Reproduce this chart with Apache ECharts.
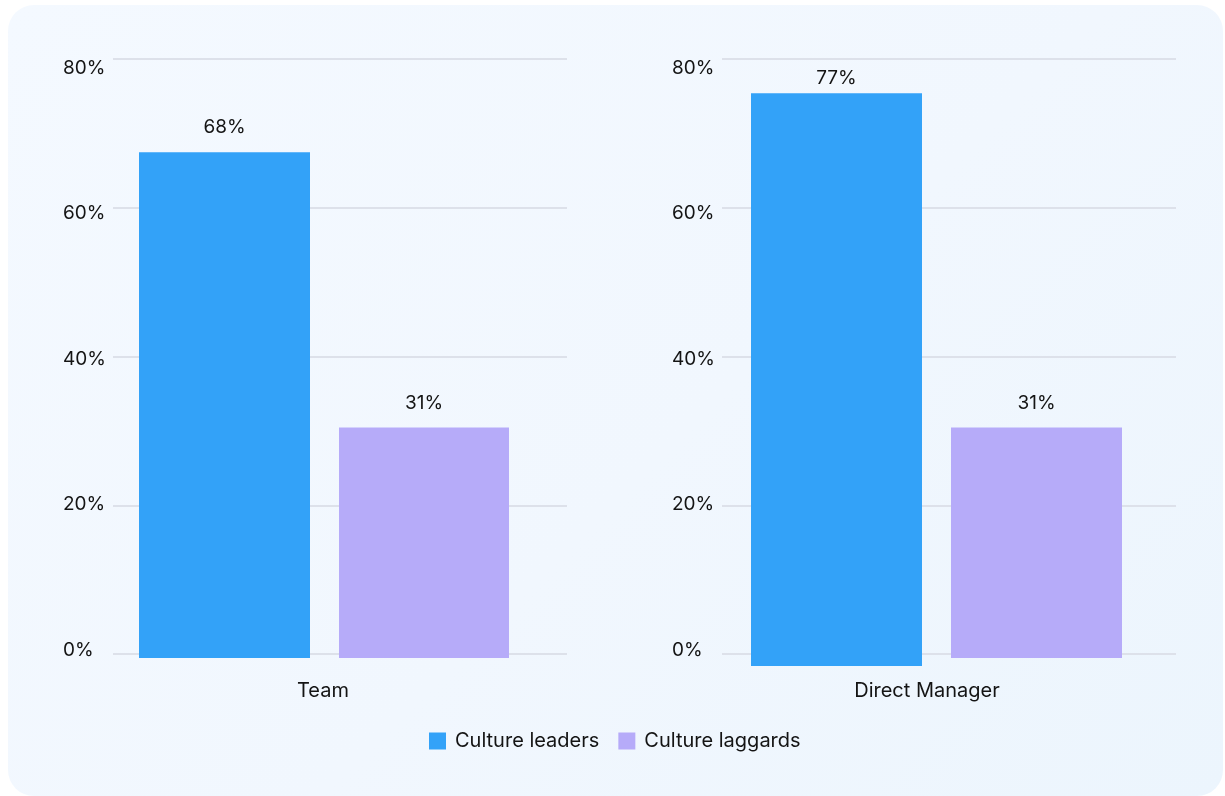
<!DOCTYPE html>
<html>
<head>
<meta charset="utf-8">
<script src="https://cdn.jsdelivr.net/npm/echarts/dist/echarts.min.js"></script>
<style>
  html, body { margin: 0; padding: 0; background: #ffffff; width: 1225px; height: 796px; overflow: hidden; }
  #bg { position: absolute; left: 8px; top: 5px; width: 1215px; height: 791px; border-radius: 26px;
        background: linear-gradient(135deg, #f4f9ff 0%, #f1f7fe 55%, #ecf5fd 100%); }
  #chart { position: absolute; left: 0; top: 0; width: 1225px; height: 796px; }
</style>
</head>
<body>
<div id="bg"></div>
<div id="chart"></div>
<script>
// ---- data ----
const categories = ['Team', 'Direct Manager'];
const seriesNames = ['Culture leaders', 'Culture laggards'];
const leaders = [68, 77];
const laggards = [31, 31];
const yMin = 0, yMax = 80, yStep = 20;

// ---- layout / style (not data) ----
const FONT = 'Inter, "Open Sans", sans-serif';
const TXT = '#141414';
const colors = ['#33a2f8', '#b6abf9'];
const panels = [
  { gridLeft: 113, gridWidth: 454, labelWidth: 420,
    bars: [ { left: 139, width: 171, zero: 658, dist: 15 }, { left: 339, width: 170, zero: 658, dist: 15 } ] },
  { gridLeft: 722, gridWidth: 454, labelWidth: 410,
    bars: [ { left: 751, width: 171, zero: 666, dist: 6 }, { left: 951, width: 171, zero: 658, dist: 15 } ] }
];
const SCALE_H = 595; // px for full 0..80 range

const grid = [], xAxis = [], yAxis = [], series = [];
const valueSeries = [leaders, laggards];

panels.forEach((p, pi) => {
  // gridlines grid
  let gi = grid.length;
  grid.push({ left: p.gridLeft, width: p.gridWidth, top: 59, height: SCALE_H, outerBoundsMode: 'none' });
  xAxis.push({ gridIndex: gi, type: 'category', data: [categories[pi]], show: false });
  yAxis.push({ gridIndex: gi, type: 'value', min: yMin, max: yMax, interval: yStep,
    axisLine: { show: false }, axisTick: { show: false }, axisLabel: { show: false },
    splitLine: { show: true, lineStyle: { color: '#dde1ea', width: 2 } } });

  // labels grid (y tick labels + category label)
  gi = grid.length;
  grid.push({ left: p.gridLeft, width: p.labelWidth, top: 68, height: 582, outerBoundsMode: 'none' });
  xAxis.push({ gridIndex: gi, type: 'category', data: [categories[pi]],
    axisLine: { show: false }, axisTick: { show: false }, splitLine: { show: false },
    axisLabel: { show: true, margin: 31, fontSize: 20, color: TXT, fontFamily: FONT } });
  yAxis.push({ gridIndex: gi, type: 'value', min: yMin, max: yMax, interval: yStep,
    axisLine: { show: false }, axisTick: { show: false }, splitLine: { show: false },
    axisLabel: { show: true, margin: 50, align: 'left', fontSize: 19, color: TXT, fontFamily: FONT,
      formatter: '{value}%' } });

  // one grid per bar
  p.bars.forEach((b, si) => {
    const g = grid.length;
    grid.push({ left: b.left, width: b.width, top: b.zero - SCALE_H, height: SCALE_H, outerBoundsMode: 'none' });
    xAxis.push({ gridIndex: g, type: 'category', data: [categories[pi]], show: false });
    yAxis.push({ gridIndex: g, type: 'value', min: yMin, max: yMax, interval: yStep, show: false,
      splitLine: { show: false } });
    series.push({
      name: seriesNames[si], type: 'bar', xAxisIndex: g, yAxisIndex: g,
      data: [valueSeries[si][pi]], barWidth: '100%',
      itemStyle: { color: colors[si] },
      label: { show: true, position: 'top', distance: b.dist, formatter: '{c}%',
        fontSize: 19, color: TXT, fontFamily: FONT },
      emphasis: { disabled: true }
    });
  });
});

const chart = echarts.init(document.getElementById('chart'), null, { renderer: 'canvas' });
chart.setOption({
  backgroundColor: 'transparent',
  animation: false,
  textStyle: { fontFamily: FONT },
  grid, xAxis, yAxis, series,
  legend: {
    data: seriesNames, left: 429, top: 731, padding: 0,
    icon: 'rect', itemWidth: 17, itemHeight: 17, itemGap: 19,
    textStyle: { fontSize: 20, color: TXT, fontFamily: FONT, padding: [0, 0, 0, 4] },
    selectedMode: false
  }
});
</script>
</body>
</html>
